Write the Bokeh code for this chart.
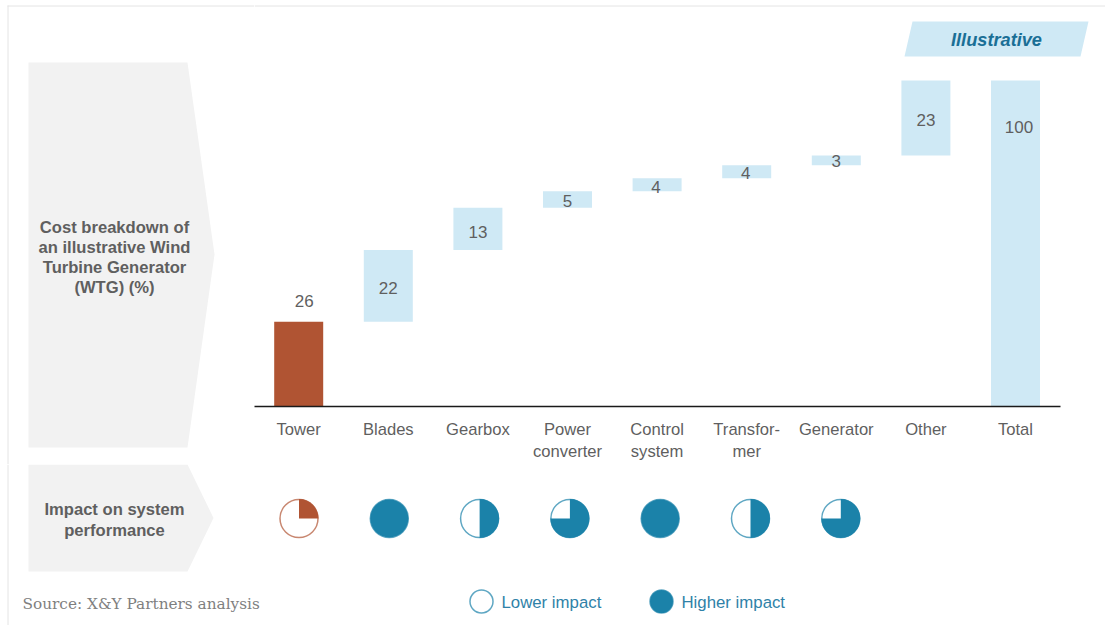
import numpy as np
from bokeh.plotting import figure
from bokeh.layouts import column, row
from bokeh.models import Range1d, FixedTicker, ColumnDataSource
from bokeh.core.properties import value
from bokeh.embed import file_html
from bokeh.resources import INLINE

# ---- data ----
categories = ["Tower", "Blades", "Gearbox", "Power\nconverter", "Control\nsystem",
              "Transfor-\nmer", "Generator", "Other", "Total"]
cost_share = [26, 22, 13, 5, 4, 4, 3, 23]
total_share = [100]
impact_level = [0.25, 1.0, 0.5, 0.75, 1.0, 0.5, 0.75]
panel_title_cost = "Cost breakdown of\nan illustrative Wind\nTurbine Generator\n(WTG) (%)"
panel_title_impact = "Impact on system\nperformance"
source_note = "Source: X&Y Partners analysis"
legend_labels = ["Lower impact", "Higher impact"]

# ---- styles / layout ----
LIGHT = "#CFE9F5"
BROWN = "#B05433"
TEAL = "#1B82A9"
PANEL = "#F2F2F2"
TEXT = "#5F5F5F"
RULE = "#E4E4E4"
FONT = value("Liberation Sans")
FS = "16.6px"

PAGE_W, PAGE_H = 1105, 625
SPLIT_X, SPLIT_Y = 254, 464
BASE_PX = 406
STEP, X0 = 89.6, 298.2
PX_PER_UNIT = 3.26


def blank(w, h, x_range, y_range):
    p = figure(width=w, height=h, x_range=x_range, y_range=y_range,
               output_backend="svg", toolbar_location=None,
               x_axis_location=None, y_axis_location=None, frame_align=False,
               min_border=0, min_border_left=0, min_border_right=0,
               min_border_top=0, min_border_bottom=0)
    p.grid.visible = False
    p.outline_line_color = None
    p.background_fill_color = "white"
    p.border_fill_color = "white"
    return p


# ---- left panel figure ----
left = blank(SPLIT_X, SPLIT_Y, Range1d(0, SPLIT_X), Range1d(SPLIT_Y, 0))
left.patch([28, 187, 214, 187, 28], [62, 62, 254, 447, 447], fill_color=PANEL, line_color=None)
left.text([114], [257], text=[panel_title_cost], text_align="center", text_baseline="middle",
          text_font=FONT, text_font_style="bold", text_font_size=FS, text_color=TEXT,
          text_line_height=1.06)
left.segment([7.5], [5], [7.5], [SPLIT_Y], line_color=RULE, line_width=1)
left.segment([7], [5.5], [SPLIT_X], [5.5], line_color=RULE, line_width=1)

# ---- waterfall figure ----
tops = np.cumsum(cost_share).tolist()
all_tops = tops + total_share
all_bottoms = [0] + tops[:-1] + [0]
labels = cost_share + total_share
x_idx = list(range(len(categories)))
bar_colors = [BROWN] + [LIGHT] * (len(categories) - 1)
mids = [(a + b) / 2 for a, b in zip(all_tops, all_bottoms)]
lab_dx = [5.5, 0, 0, 0, -1, -1, 0, 0, 3.5]
lab_dy = [-63.6, 2, 3, 2, 2, 1, 1, 2, -117]

wf = figure(width=PAGE_W - SPLIT_X, height=SPLIT_Y,
            x_range=Range1d((SPLIT_X - X0) / STEP, (PAGE_W - X0) / STEP),
            y_range=Range1d(0, BASE_PX / PX_PER_UNIT),
            output_backend="svg", toolbar_location=None,
            x_axis_location="below", y_axis_location=None, frame_align=False,
            min_border=0, min_border_left=0, min_border_right=0,
            min_border_top=0, min_border_bottom=SPLIT_Y - BASE_PX)
wf.grid.visible = False
wf.outline_line_color = None
wf.extra_x_ranges["px"] = Range1d(SPLIT_X, PAGE_W)
wf.extra_y_ranges["px"] = Range1d(BASE_PX, 0)

src = ColumnDataSource(dict(x=x_idx, top=all_tops, bottom=all_bottoms, color=bar_colors,
                            mid=mids, label=[str(v) for v in labels], dx=lab_dx, dy=lab_dy))
wf.vbar(x="x", top="top", bottom="bottom", width=49 / STEP, fill_color="color",
        line_color=None, source=src)
wf.text(x="x", y="mid", text="label", x_offset="dx", y_offset="dy", text_align="center",
        text_baseline="middle", text_font=FONT, text_font_size="17px", text_color=TEXT, source=src)

ax = wf.xaxis[0]
ax.ticker = FixedTicker(ticks=x_idx)
ax.major_label_overrides = {i: c for i, c in enumerate(categories)}
ax.major_tick_line_color = None
ax.minor_tick_line_color = None
ax.axis_line_color = "#1a1a1a"
ax.axis_line_width = 1.5
ax.bounds = ((SPLIT_X - X0) / STEP, (1060 - X0) / STEP)
ax.major_label_standoff = 7
ax.major_label_text_font = "Liberation Sans"
ax.major_label_text_font_size = FS
ax.major_label_text_color = TEXT

wf.patch([912, 1088, 1080, 904], [21, 21, 56, 56], fill_color=LIGHT, line_color=None,
         x_range_name="px", y_range_name="px")
wf.text([996], [39], text=["Illustrative"], text_align="center", text_baseline="middle",
        text_font=FONT, text_font_style="bold italic", text_font_size="18.2px", text_color="#1A6F96",
        x_range_name="px", y_range_name="px")
wf.segment([SPLIT_X], [5.5], [PAGE_W], [5.5], line_color=RULE, line_width=1,
           x_range_name="px", y_range_name="px")

# ---- bottom figure ----
IMP_STEP = 90.3
bot = blank(PAGE_W, PAGE_H - SPLIT_Y, Range1d(-298.5 / IMP_STEP, (PAGE_W - 298.5) / IMP_STEP), Range1d(0, 1))
bot.extra_x_ranges["px"] = Range1d(0, PAGE_W)
bot.extra_y_ranges["px"] = Range1d(PAGE_H, SPLIT_Y)
px = dict(x_range_name="px", y_range_name="px")
imp = dict(y_range_name="px")

bot.patch([28, 187, 213, 187, 28], [464, 464, 517.5, 571, 571], fill_color=PANEL, line_color=None, **px)
bot.text([114], [519.5], text=[panel_title_impact], text_align="center", text_baseline="middle",
         text_font=FONT, text_font_style="bold", text_font_size=FS, text_color=TEXT,
         text_line_height=1.06, **px)

imp_x = list(range(len(impact_level)))
imp_y = [518] * len(impact_level)
imp_col = [BROWN] + [TEAL] * (len(impact_level) - 1)
bot.text([22], [603], text=[source_note], text_align="left", text_baseline="middle",
         text_font=value("DejaVu Serif"), text_font_size="15.3px", text_color="#7F7F7F", **px)

base_fill = [c if f >= 1 else "white" for c, f in zip(imp_col, impact_level)]
bot.circle(imp_x, imp_y, radius=19, radius_units="screen", fill_color=base_fill,
           line_color=imp_col, line_alpha=0.7, line_width=1.5, **imp)
part = [i for i, f in enumerate(impact_level) if f < 1]
bot.wedge([imp_x[i] for i in part], [imp_y[i] for i in part], radius=19.5, radius_units="screen",
          start_angle=[np.pi / 2 - 2 * np.pi * impact_level[i] for i in part],
          end_angle=[np.pi / 2] * len(part),
          fill_color=[imp_col[i] for i in part], line_color=None, **imp)

# legend
bot.circle([481, 661], [601, 601], radius=11.5, radius_units="screen",
           fill_color=["white", TEAL], line_color=TEAL, line_alpha=0.7, line_width=1.5, **px)
bot.text([501, 681], [602, 602], text=legend_labels, text_align="left", text_baseline="middle",
         text_font=FONT, text_font_size="16.8px", text_color="#2F82A8", **px)
bot.segment([7.5], [SPLIT_Y], [7.5], [PAGE_H], line_color=RULE, line_width=1, **px)

page = column(row(left, wf, spacing=0), bot, spacing=0)
open("out.html", "w").write(file_html(page, INLINE))
